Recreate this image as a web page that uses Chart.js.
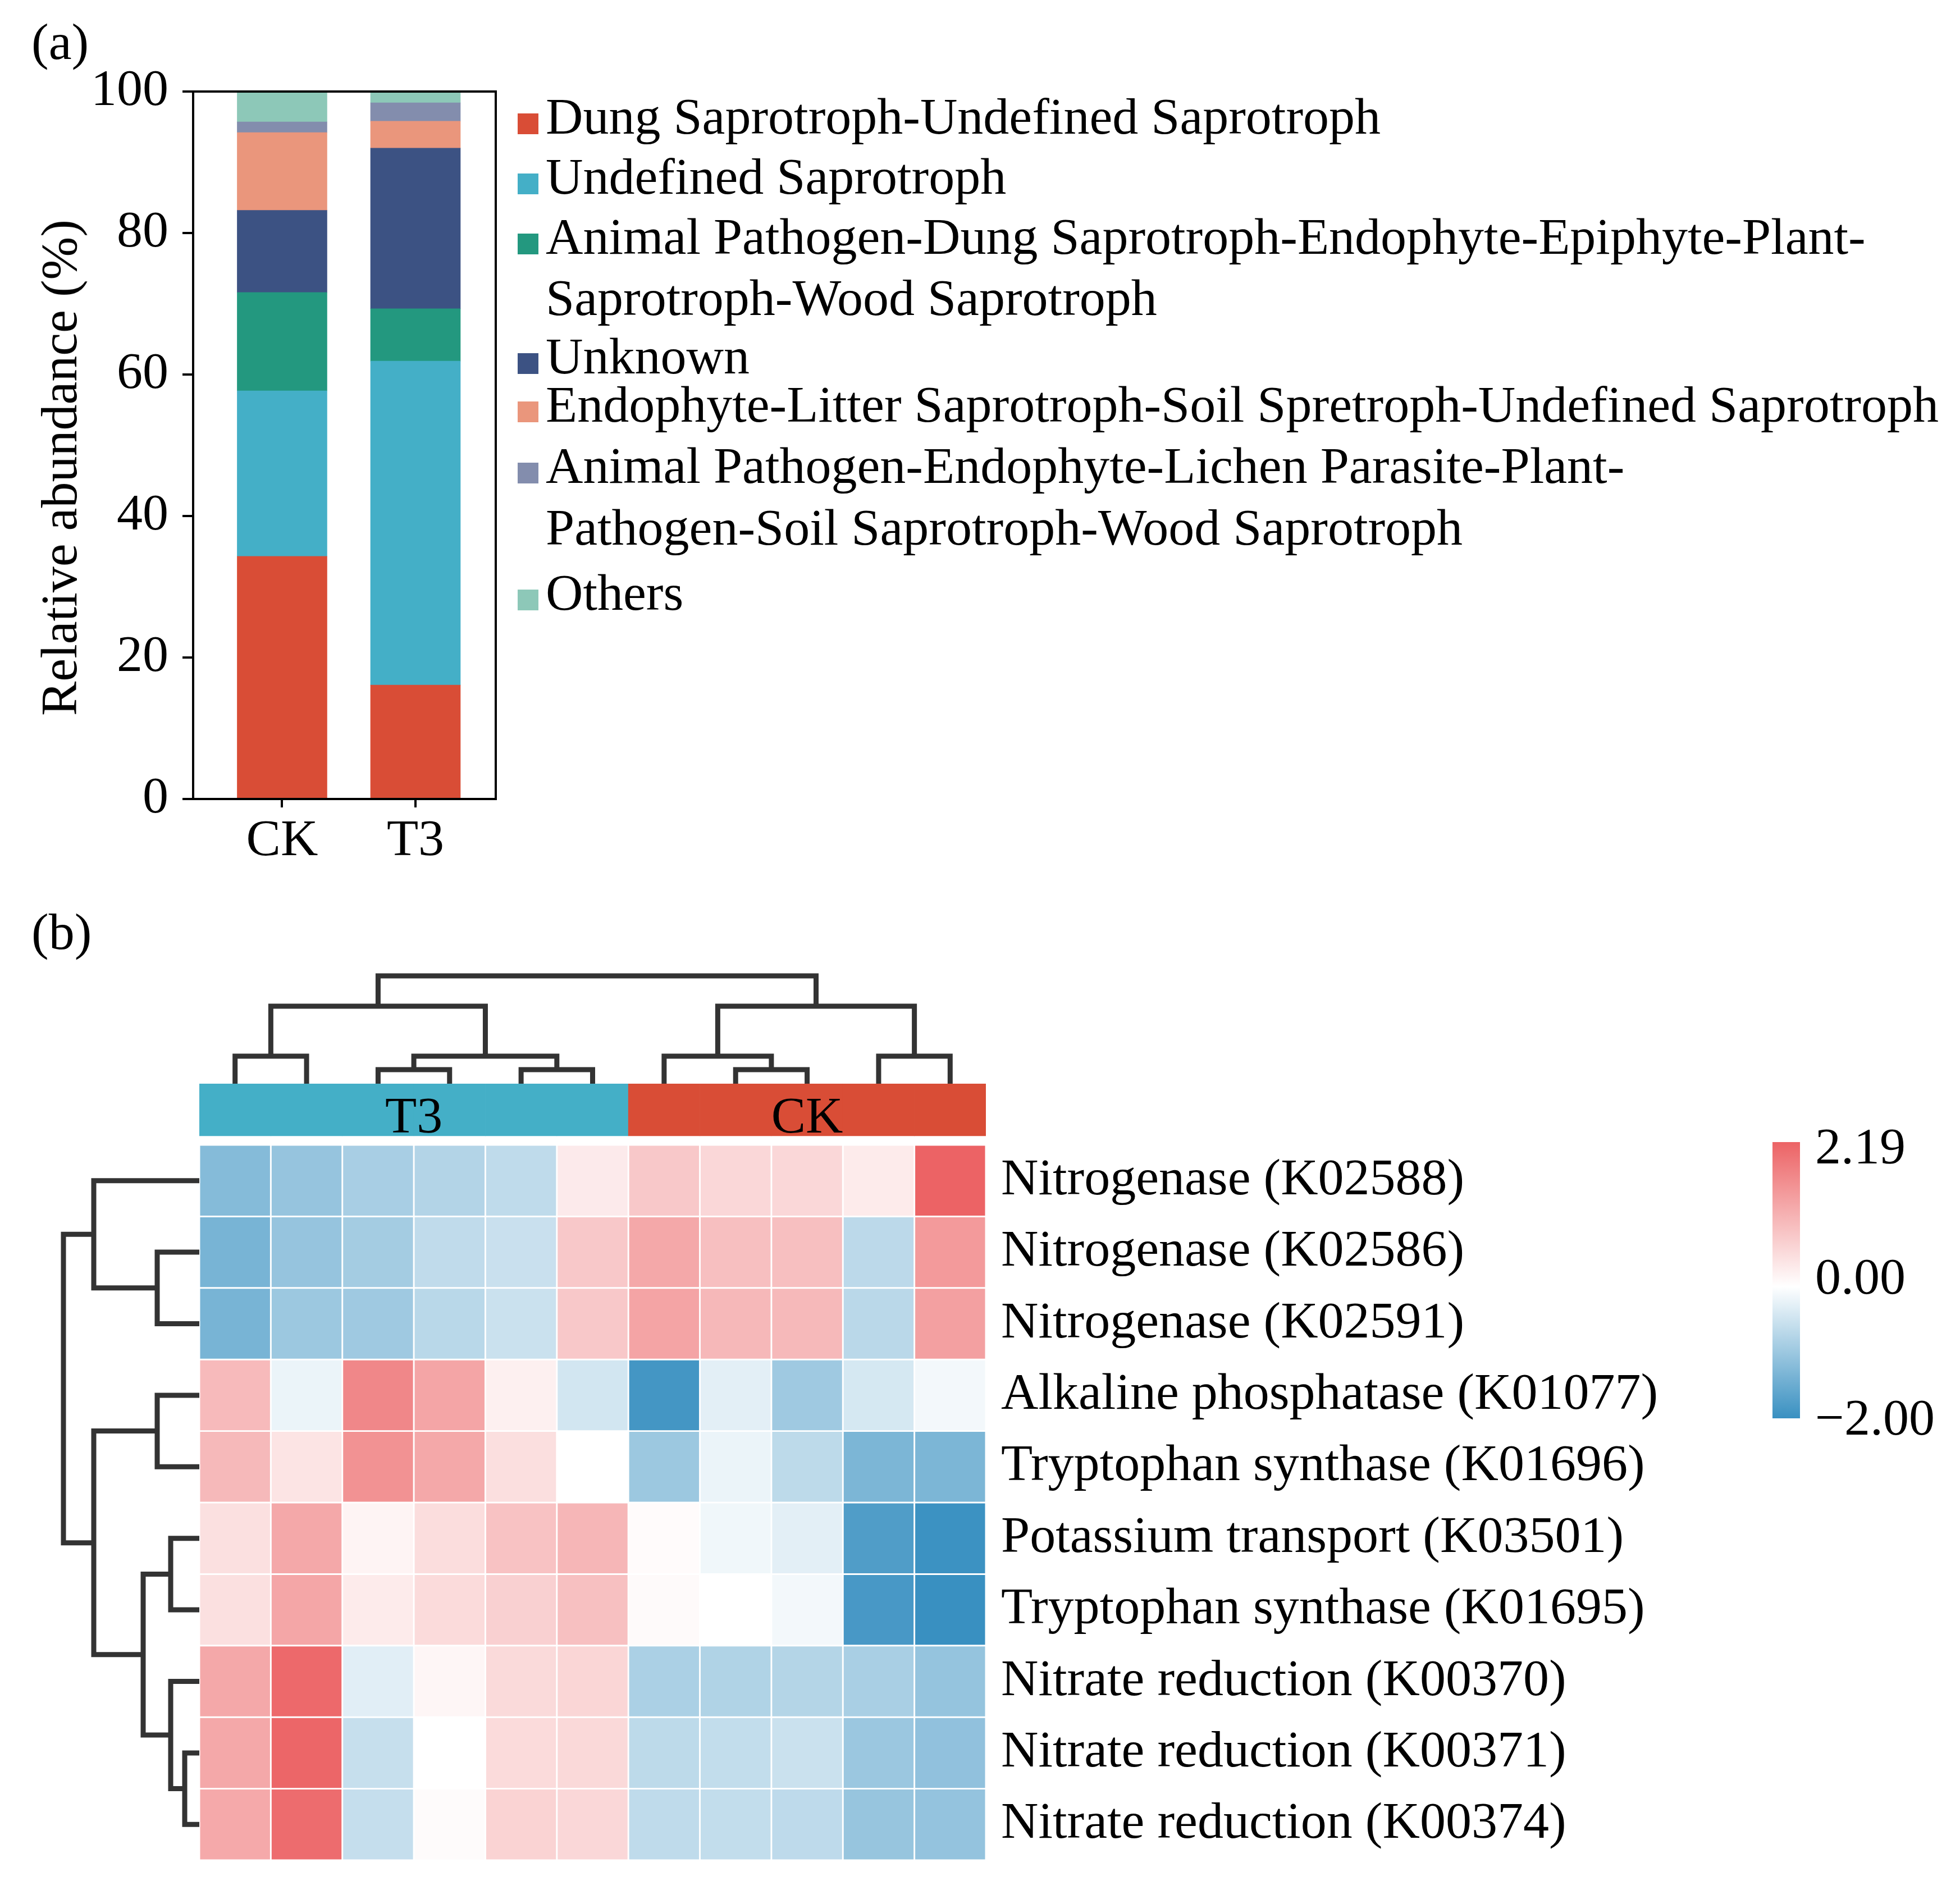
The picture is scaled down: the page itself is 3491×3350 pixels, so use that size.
<!DOCTYPE html>
<html>
<head>
<meta charset="utf-8">
<script src="https://cdn.jsdelivr.net/npm/chart.js@4.4.1/dist/chart.umd.min.js"></script>
<style>
  html, body { margin: 0; padding: 0; background: #fff; }
  #page { position: relative; width: 3491px; height: 3350px; overflow: hidden;
          font-family: "Liberation Serif", "Times New Roman", serif; color: #000; }
  canvas { position: absolute; }
  .txt { position: absolute; line-height: 1; white-space: nowrap; }
  .swatch { position: absolute; width: 37px; height: 37px; }
</style>
</head>
<body>
<div id="page">
  <canvas id="barChart" width="920" height="1620" style="left:0;top:0"></canvas>
  <canvas id="heatChart" width="3100" height="1750" style="left:0;top:1700px"></canvas>
  <canvas id="topTree" width="1520" height="280" style="left:300px;top:1680px"></canvas>
  <canvas id="leftTree" width="400" height="1350" style="left:0;top:2000px"></canvas>
  <div id="colorbar" style="position:absolute;left:3157px;top:2034px;width:49px;height:492px"></div>
</div>
<script>
// ---- panel (a): relative abundance of fungal guilds ----
const groups = ["CK", "T3"];
const guildNames = [
  ["Dung Saprotroph-Undefined Saprotroph"],
  ["Undefined Saprotroph"],
  ["Animal Pathogen-Dung Saprotroph-Endophyte-Epiphyte-Plant-", "Saprotroph-Wood Saprotroph"],
  ["Unknown"],
  ["Endophyte-Litter Saprotroph-Soil Spretroph-Undefined Saprotroph"],
  ["Animal Pathogen-Endophyte-Lichen Parasite-Plant-", "Pathogen-Soil Saprotroph-Wood Saprotroph"],
  ["Others"]
];
const guildColors = ["#D94D36", "#44AFC7", "#23987F", "#3C5283", "#EA967C", "#838DAD", "#8DC8B8"];
const ckShares = [34.3, 23.4, 13.9, 11.6, 11.0, 1.5, 4.3];
const t3Shares = [16.1, 45.8, 7.4, 22.7, 3.8, 2.6, 1.6];

// ---- panel (b): heatmap of functional genes ----
const sampleIds = ["T3-1", "T3-2", "T3-3", "T3-4", "T3-5", "T3-6", "CK-1", "CK-2", "CK-3", "CK-4", "CK-5"];
const sampleGroup = ["T3", "T3", "T3", "T3", "T3", "T3", "CK", "CK", "CK", "CK", "CK"];
const groupColors = { T3: "#44AFC7", CK: "#D94D36" };
const geneLabels = [
  "Nitrogenase (K02588)",
  "Nitrogenase (K02586)",
  "Nitrogenase (K02591)",
  "Alkaline phosphatase (K01077)",
  "Tryptophan synthase (K01696)",
  "Potassium transport (K03501)",
  "Tryptophan synthase (K01695)",
  "Nitrate reduction (K00370)",
  "Nitrate reduction (K00371)",
  "Nitrate reduction (K00374)"
];
const zScores = [
  [-1.23, -1.06, -0.88, -0.77, -0.65, 0.29, 0.77, 0.56, 0.56, 0.28, 2.19],
  [-1.36, -1.06, -0.92, -0.64, -0.55, 0.77, 1.22, 0.90, 0.90, -0.68, 1.42],
  [-1.36, -1.00, -0.97, -0.71, -0.54, 0.77, 1.28, 1.00, 0.98, -0.70, 1.33],
  [0.97, -0.20, 1.68, 1.26, 0.21, -0.45, -1.89, -0.28, -0.97, -0.42, -0.12],
  [0.98, 0.38, 1.53, 1.22, 0.45, 0.00, -1.00, -0.20, -0.67, -1.32, -1.32],
  [0.44, 1.22, 0.15, 0.48, 0.86, 1.02, 0.05, -0.15, -0.28, -1.77, -1.97],
  [0.44, 1.25, 0.28, 0.51, 0.66, 0.88, 0.07, 0.00, -0.12, -1.85, -2.00],
  [1.22, 2.10, -0.30, 0.13, 0.52, 0.58, -0.85, -0.80, -0.76, -0.87, -1.07],
  [1.22, 2.15, -0.58, 0.00, 0.51, 0.54, -0.67, -0.62, -0.54, -1.01, -1.11],
  [1.21, 2.06, -0.59, 0.06, 0.62, 0.56, -0.65, -0.62, -0.66, -1.05, -1.08]
];
const zMin = -2.00;
const zMax = 2.19;
const colorbarTicks = [2.19, 0.00, -2.00];

// dendrograms: [childA, childB, height]; new nodes get the next index
const colLinks = [
  [0, 1, 1.96], [2, 3, 1.0], [4, 5, 1.0], [12, 13, 1.96], [11, 14, 5.52],
  [7, 8, 1.0], [6, 16, 1.96], [9, 10, 1.96], [17, 18, 5.52], [15, 19, 7.68]
];
const rowLinks = [
  [1, 2, 3.0], [0, 10, 7.52], [3, 4, 3.0], [5, 6, 2.04], [8, 9, 1.04],
  [7, 14, 2.04], [13, 15, 4.0], [12, 16, 7.52], [11, 17, 9.68]
];

// ---- helpers ----
Chart.defaults.font.family = '"Liberation Serif", "Times New Roman", serif';
Chart.defaults.color = "#000";
const FS = 92;
const page = document.getElementById("page");

function placeText(text, x, baseline, size) {
  const el = document.createElement("div");
  el.className = "txt";
  el.style.fontSize = size + "px";
  el.style.left = x + "px";
  el.style.top = (baseline - 0.8375 * size) + "px";
  el.textContent = text;
  page.appendChild(el);
  return el;
}

function heatColor(v) {
  const lo = [57, 144, 193], hi = [236, 99, 101];
  const t = v >= 0 ? Math.min(v / zMax, 1) : Math.min(v / zMin, 1);
  const end = v >= 0 ? hi : lo;
  const c = end.map(e => Math.round(255 + (e - 255) * t));
  return "rgb(" + c.join(",") + ")";
}

function dendroSegments(nLeaves, links, orient) {
  const pos = [], hgt = [];
  for (let i = 0; i < nLeaves; i++) { pos.push(i); hgt.push(0); }
  const segs = [];
  links.forEach(([a, b, h]) => {
    const pts = [[pos[a], hgt[a]], [pos[a], h], [pos[b], h], [pos[b], hgt[b]]];
    segs.push(pts.map(([p, v]) => orient === "top" ? { x: p, y: v } : { x: v, y: p }));
    pos.push((pos[a] + pos[b]) / 2);
    hgt.push(h);
  });
  return segs;
}

const baseOpts = {
  responsive: false, devicePixelRatio: 1, animation: false, events: [],
  plugins: { legend: { display: false }, tooltip: { enabled: false } }
};

// ---- (a) stacked bars ----
const framePlugin = {
  id: "frame",
  afterDraw(chart) {
    const { ctx, chartArea: a } = chart;
    ctx.save();
    ctx.strokeStyle = "#000";
    ctx.lineWidth = 4;
    ctx.strokeRect(a.left, a.top, a.right - a.left, a.bottom - a.top);
    ctx.restore();
  }
};

new Chart(document.getElementById("barChart"), {
  type: "bar",
  data: {
    datasets: guildNames.map((lines, k) => ({
      label: lines.join(""),
      data: [{ x: 0, y: ckShares[k] }, { x: 1, y: t3Shares[k] }],
      backgroundColor: guildColors[k],
      barThickness: 160
    }))
  },
  options: Object.assign({}, baseOpts, {
    layout: { padding: { left: 0, top: 163, right: 37, bottom: 0 } },
    scales: {
      x: {
        type: "linear", stacked: true, min: -0.667, max: 1.602, offset: false,
        afterBuildTicks: s => { s.ticks = groups.map((_, i) => ({ value: i })); },
        ticks: { callback: (v, i) => groups[i], font: { size: FS }, padding: 6, maxRotation: 0 },
        grid: { drawOnChartArea: false, offset: false, tickLength: 15, color: "#000", lineWidth: 4 },
        border: { color: "#000", width: 4 },
        afterFit: s => { s.height = 197; }
      },
      y: {
        stacked: true, min: 0, max: 100,
        ticks: { stepSize: 20, font: { size: FS }, padding: 25 },
        grid: { drawOnChartArea: false, tickLength: 19, color: "#000", lineWidth: 4 },
        border: { color: "#000", width: 4 },
        afterFit: s => { s.width = 344; }
      }
    }
  }),
  plugins: [framePlugin]
});

// y title and panel labels
const yTitle = placeText("Relative abundance (%)", 0, 0, FS);
yTitle.style.left = "105px";
yTitle.style.top = "833px";
yTitle.style.transform = "translate(-50%, -50%) rotate(-90deg)";
placeText("(a)", 56, 105, FS);
placeText("(b)", 56, 1690, FS);

// legend
const legendBaselines = [[238], [345], [452, 561], [665], [751], [860, 970], [1086]];
guildNames.forEach((lines, k) => {
  const sw = document.createElement("div");
  sw.className = "swatch";
  sw.style.left = "922px";
  sw.style.top = (legendBaselines[k][0] - 36) + "px";
  sw.style.background = guildColors[k];
  page.appendChild(sw);
  lines.forEach((ln, j) => placeText(ln, 972, legendBaselines[k][j], FS));
});

// ---- (b) heatmap ----
const groupBand = [-0.856, -0.126];
const groupLabelPlugin = {
  id: "groupLabels",
  afterDatasetsDraw(chart) {
    const { ctx, scales: { x, y } } = chart;
    ctx.save();
    ctx.font = FS + 'px "Liberation Serif", "Times New Roman", serif';
    ctx.fillStyle = "#000";
    ctx.textAlign = "center";
    ctx.textBaseline = "alphabetic";
    Object.keys(groupColors).forEach(g => {
      const idx = sampleGroup.map((s, i) => s === g ? i : -1).filter(i => i >= 0);
      const cx = (x.getPixelForValue(idx[0]) + x.getPixelForValue(idx[idx.length - 1])) / 2;
      ctx.fillText(g, cx, y.getPixelForValue(groupBand[1]) - 6);
    });
    ctx.restore();
  }
};

const heatDatasets = zScores.map((row, r) => ({
  label: geneLabels[r],
  data: row.map(() => [r, r + 1]),
  backgroundColor: row.map(heatColor),
  borderColor: "#fff",
  borderWidth: 1.8,
  borderSkipped: false,
  grouped: false,
  barPercentage: 1,
  categoryPercentage: 1
}));
heatDatasets.push({
  label: "group",
  data: sampleIds.map(() => groupBand),
  backgroundColor: sampleGroup.map(g => groupColors[g]),
  borderWidth: 0,
  grouped: false,
  barPercentage: 1,
  categoryPercentage: 1
});

// canvas runs past the page bottom so the label padding does not squeeze the cells
new Chart(document.getElementById("heatChart"), {
  type: "bar",
  data: { labels: sampleIds, datasets: heatDatasets },
  options: Object.assign({}, baseOpts, {
    layout: { padding: { left: 355, top: 230, right: 0, bottom: 137 } },
    scales: {
      x: { type: "category", display: false },
      y: {
        type: "linear", reverse: true, min: groupBand[0], max: geneLabels.length, position: "right",
        afterBuildTicks: s => { s.ticks = geneLabels.map((_, i) => ({ value: i + 0.5 })); },
        ticks: { callback: (v, i) => geneLabels[i], font: { size: FS }, padding: 27, autoSkip: false },
        grid: { display: false, drawTicks: false },
        border: { display: false },
        afterFit: s => { s.width = 1344; }
      }
    }
  }),
  plugins: [groupLabelPlugin]
});

// ---- dendrograms ----
function treeDatasets(segs) {
  return segs.map(d => ({
    data: d, showLine: true, borderColor: "#333333", borderWidth: 9,
    pointRadius: 0, clip: false, borderJoinStyle: "miter", borderCapStyle: "butt"
  }));
}

new Chart(document.getElementById("topTree"), {
  type: "scatter",
  data: { datasets: treeDatasets(dendroSegments(sampleIds.length, colLinks, "top")) },
  options: Object.assign({}, baseOpts, {
    layout: { padding: { left: 55, top: 50, right: 64, bottom: 30 } },
    scales: {
      x: { type: "linear", min: -0.5, max: sampleIds.length - 0.5, display: false },
      y: { type: "linear", min: 0, max: 8, display: false }
    }
  })
});

new Chart(document.getElementById("leftTree"), {
  type: "scatter",
  data: { datasets: treeDatasets(dendroSegments(geneLabels.length, rowLinks, "left")) },
  options: Object.assign({}, baseOpts, {
    layout: { padding: { left: 105, top: 39, right: 45, bottom: 37 } },
    scales: {
      x: { type: "linear", min: 0, max: 10, reverse: true, display: false },
      y: { type: "linear", min: -0.5, max: geneLabels.length - 0.5, reverse: true, display: false }
    }
  })
});

// ---- colour bar ----
const zeroPct = (zMax / (zMax - zMin) * 100).toFixed(2);
document.getElementById("colorbar").style.background =
  "linear-gradient(to bottom, " + heatColor(zMax) + " 0%, #ffffff " + zeroPct + "%, " + heatColor(zMin) + " 100%)";
const colorbarBaselines = [2072, 2304, 2555];
colorbarTicks.forEach((v, i) => {
  placeText(v.toFixed(2).replace("-", "\u2212"), 3233, colorbarBaselines[i], FS);
});
</script>
</body>
</html>
